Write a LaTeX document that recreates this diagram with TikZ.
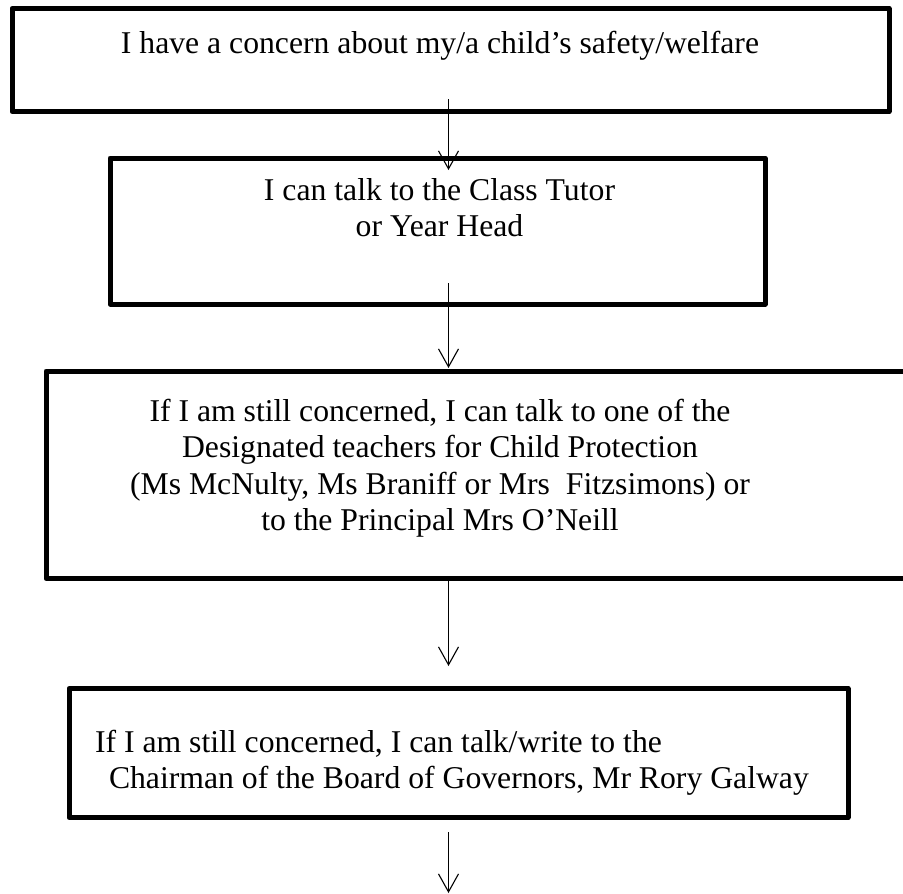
\documentclass[tikz,border=0pt]{standalone}
\usepackage{fontspec}
\setmainfont{Liberation Serif}
\usetikzlibrary{arrows.meta}
\begin{document}
\begin{tikzpicture}[x=1pt,y=-1pt,
  box/.style={draw,line width=5pt,line join=round,inner sep=0pt,outer sep=0pt},
  txt/.style={inner sep=0pt,outer sep=0pt,font=\fontsize{31.7}{36.5}\selectfont},
  arr/.style={line width=1.1pt,-{Straight Barb[length=18pt,width=20pt,line width=1.1pt]}}]
\path[use as bounding box,clip] (0,0) rectangle (903,894);
\fill[white] (0,0) rectangle (903,894);
% boxes
\node[box,minimum width=877pt,minimum height=103pt] (b1) at (450.5,60) {};
\node[box,minimum width=655pt,minimum height=146pt] (b2) at (437.5,231) {};
\node[box,minimum width=869pt,minimum height=207.5pt] (b3) at (480.5,474.75) {};
\node[box,minimum width=779pt,minimum height=129pt] (b4) at (458.5,753) {};
% texts
\node[txt,anchor=base] (t1) at (440,53) {I have a concern about my/a child’s safety/welfare};
\node[txt,anchor=base] (t2) at (439.5,200) {\begin{tabular}[t]{@{}c@{}}I can talk to the Class Tutor\\ or Year Head\end{tabular}};
\node[txt,anchor=base] (t3) at (440,421) {\begin{tabular}[t]{@{}c@{}}If I am still concerned, I can talk to one of the\\ Designated teachers for Child Protection\\ (Ms McNulty, Ms Braniff or Mrs\ \ Fitzsimons) or\\ to the Principal Mrs O’Neill\end{tabular}};
\node[txt,anchor=base west] (t4) at (95,752) {\begin{tabular}[t]{@{}l@{}}If I am still concerned, I can talk/write to the\\ \hspace*{14pt}Chairman of the Board of Governors, Mr Rory Galway\end{tabular}};
% connectors
\coordinate (ax) at (448.5,0);
\coordinate (e4) at (448.5,893);
\draw[arr] ([yshift=12.5pt]ax |- b1.south) -- ([yshift=-12pt]ax |- b2.north);
\draw[arr] ([yshift=21pt]ax |- b2.south) -- ([yshift=3pt]ax |- b3.north);
\draw[arr] ([yshift=-1.5pt]ax |- b3.south) -- ([yshift=22.5pt]ax |- b4.north);
\draw[arr] ([yshift=-14.5pt]ax |- b4.south) -- (e4);
\end{tikzpicture}
\end{document}
